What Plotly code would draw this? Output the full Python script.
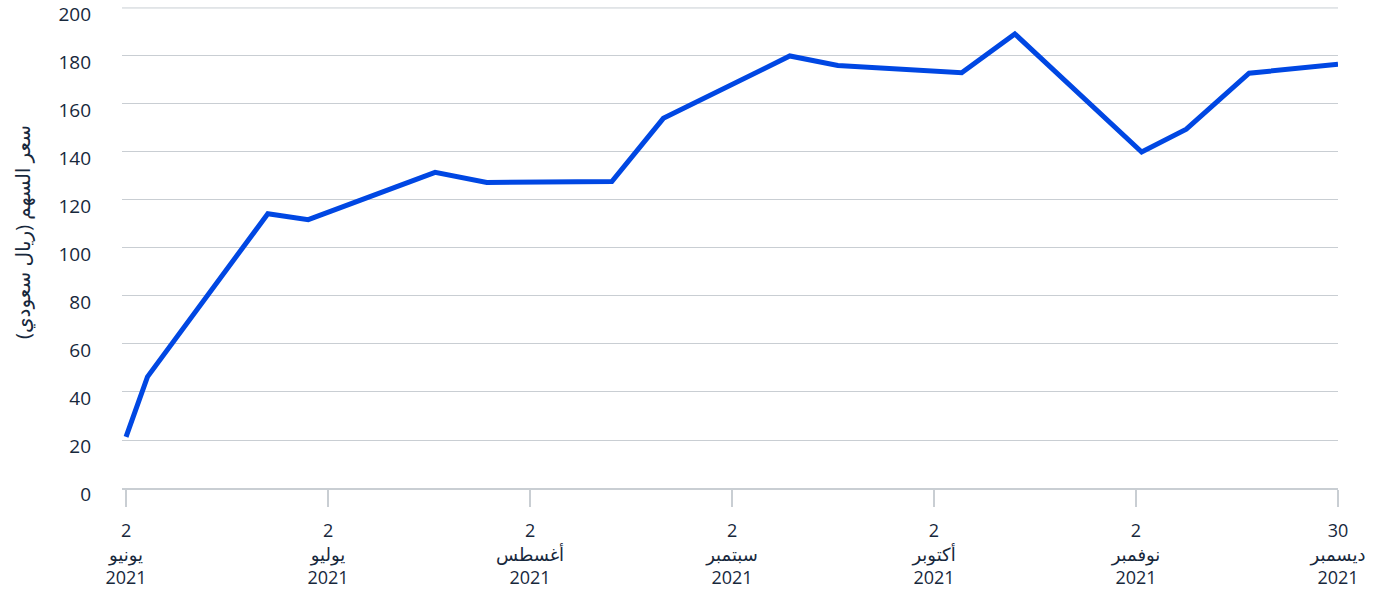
import plotly.graph_objects as go

# x positions in month-tick units (0 = 2 June 2021, 6 = 30 Dec 2021)
x_pos = [0.0, 0.106, 0.702, 0.902, 1.530, 1.786, 2.405, 2.660, 3.286, 3.524,
         4.137, 4.400, 5.028, 5.249, 5.560, 6.0]
price = [21.3, 46.3, 114.3, 111.8, 131.5, 127.3, 127.7, 154.0, 180.0, 176.0,
         173.0, 189.2, 140.0, 149.5, 172.8, 176.6]

tick_vals = [0, 1, 2, 3, 4, 5, 6]
tick_day = ["2", "2", "2", "2", "2", "2", "30"]
tick_month = ["يونيو", "يوليو", "أغسطس", "سبتمبر", "أكتوبر", "نوفمبر", "ديسمبر"]
tick_year = ["2021"] * 7
tick_text = [f"{d}<br>{m}<br>{y}" for d, m, y in zip(tick_day, tick_month, tick_year)]

y_ticks = [0, 20, 40, 60, 80, 100, 120, 140, 160, 180, 200]
y_title = "سعر السهم (ريال سعودي)"

text_color = "#17283c"
grid_color = "#c9ced3"
font_family = "Open Sans, Noto Sans, DejaVu Sans, sans-serif"

fig = go.Figure()
fig.add_trace(go.Scatter(
    x=x_pos, y=price, mode="lines",
    line=dict(color="#0047e3", width=5),
    hoverinfo="skip", showlegend=False,
))

fig.update_layout(
    width=1377, height=589,
    margin=dict(l=122, r=39, t=7, b=101),
    paper_bgcolor="white", plot_bgcolor="white",
    font=dict(family=font_family, size=19, color=text_color),
    xaxis=dict(
        range=[-0.02, 6.0],
        automargin=False,
        tickvals=tick_vals, ticktext=tick_text,
        showgrid=False, zeroline=False,
        showline=True, linecolor=grid_color, linewidth=1.5,
        ticks="outside", ticklen=17, tickcolor=grid_color, tickwidth=1.5,
        ticklabelstandoff=9,
        tickfont=dict(size=18, color=text_color),
    ),
    yaxis=dict(
        range=[0, 200.4],
        automargin=False,
        tickvals=y_ticks,
        showgrid=True, gridcolor=grid_color, gridwidth=1,
        zeroline=False, showline=False,
        ticklabelstandoff=30,
        ticklabelshift=6,
        ticklabeloverflow="allow",
        tickfont=dict(size=19, color=text_color),
    ),
    shapes=[dict(
        type="line", xref="paper", yref="y",
        x0=0, x1=1, y0=y_ticks[-1], y1=y_ticks[-1],
        line=dict(color=grid_color, width=1), layer="below",
    )],
    annotations=[dict(
        text=y_title, textangle=-90,
        xref="paper", yref="paper",
        x=(22 - 122) / 1216, y=(488 - 232) / 481,
        xanchor="center", yanchor="middle",
        showarrow=False,
        font=dict(size=20, color=text_color, family=font_family),
    )],
)

fig.write_html(
    "out.html",
    config={"displayModeBar": False},
    post_script="document.body.style.margin='0';document.body.style.overflow='hidden';",
)
